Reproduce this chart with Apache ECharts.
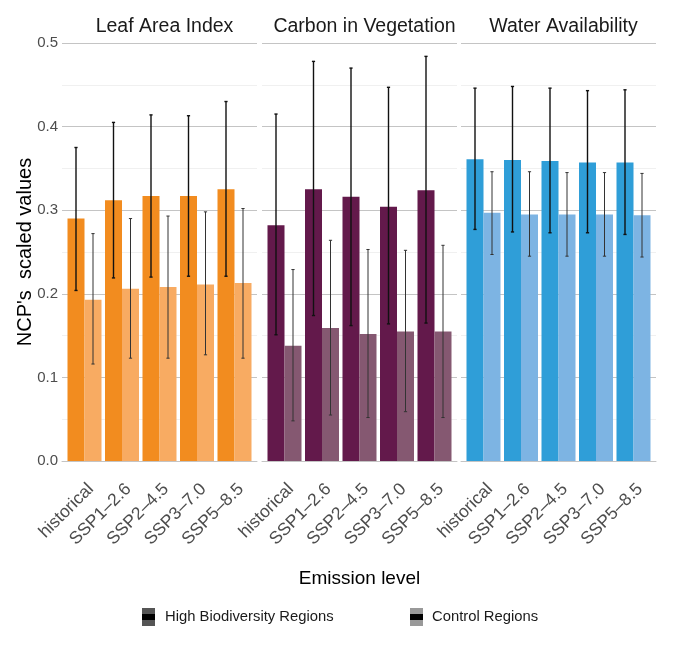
<!DOCTYPE html>
<html>
<head>
<meta charset="utf-8">
<script src="https://cdn.jsdelivr.net/npm/echarts@6/dist/echarts.min.js"></script>
<style>
  html, body { margin: 0; padding: 0; background: #fff; }
  #main { width: 680px; height: 647px; }
</style>
</head>
<body>
<div id="main"></div>
<script>
var scenarios = ['historical', 'SSP1\u20132.6', 'SSP2\u20134.5', 'SSP3\u20137.0', 'SSP5\u20138.5'];
var panels = ['Leaf Area Index', 'Carbon in Vegetation', 'Water Availability'];

// High Biodiversity Regions: mean and error range, one row per panel
var highMean = [
    [0.290, 0.312, 0.317, 0.317, 0.325],
    [0.282, 0.325, 0.316, 0.304, 0.324],
    [0.361, 0.360, 0.359, 0.357, 0.357]
];
var highLow = [
    [0.204, 0.219, 0.220, 0.221, 0.221],
    [0.151, 0.174, 0.162, 0.164, 0.165],
    [0.277, 0.274, 0.273, 0.273, 0.271]
];
var highHigh = [
    [0.375, 0.405, 0.414, 0.413, 0.430],
    [0.415, 0.478, 0.470, 0.447, 0.484],
    [0.446, 0.448, 0.446, 0.443, 0.444]
];

// Control Regions
var ctrlMean = [
    [0.193, 0.206, 0.208, 0.211, 0.213],
    [0.138, 0.159, 0.152, 0.155, 0.155],
    [0.297, 0.295, 0.295, 0.295, 0.294]
];
var ctrlLow = [
    [0.116, 0.123, 0.123, 0.127, 0.123],
    [0.048, 0.055, 0.052, 0.059, 0.052],
    [0.247, 0.245, 0.245, 0.245, 0.244]
];
var ctrlHigh = [
    [0.272, 0.290, 0.293, 0.298, 0.302],
    [0.229, 0.264, 0.253, 0.252, 0.258],
    [0.346, 0.346, 0.345, 0.345, 0.344]
];

var darkColors = ['#F28C1F', '#63194B', '#2F9ED8'];
var lightColors = ['#F8AB62', '#855871', '#7DB4E3'];

var gridLefts = [62, 262, 461];
var gridWidth = 195;
var barW = 17;

var dom = document.getElementById('main');
var myChart = echarts.init(dom);
window.addEventListener('resize', function () {
    myChart.resize();
});

function xPos(i) { return i + 0.6; }

function errorSeries(p, lo, hi, dx, color, lw, name) {
    return {
        name: name,
        type: 'custom',
        xAxisIndex: p,
        yAxisIndex: p,
        z: 5,
        data: lo.map(function (v, i) { return [xPos(i), v, hi[i]]; }),
        encode: { x: 0, y: [1, 2] },
        renderItem: function (params, api) {
            var a = api.coord([api.value(0), api.value(1)]);
            var b = api.coord([api.value(0), api.value(2)]);
            var x = a[0] + dx;
            var st = { stroke: color, lineWidth: lw };
            return {
                type: 'group',
                children: [
                    { type: 'line', shape: { x1: x, y1: a[1], x2: x, y2: b[1] }, style: st },
                    { type: 'line', shape: { x1: x - 1.6, y1: a[1], x2: x + 1.6, y2: a[1] }, style: st },
                    { type: 'line', shape: { x1: x - 1.6, y1: b[1], x2: x + 1.6, y2: b[1] }, style: st }
                ]
            };
        }
    };
}

var grids = [], xAxes = [], yAxes = [], series = [], titles = [];

panels.forEach(function (name, p) {
    grids.push({ left: gridLefts[p], width: gridWidth, top: 43, bottom: 186 });
    titles.push({
        text: name,
        left: gridLefts[p] + gridWidth / 2,
        top: 12,
        textAlign: 'center',
        textStyle: { fontFamily: 'Liberation Sans', fontSize: 19.5, fontWeight: 'normal', color: '#1a1a1a' }
    });
    xAxes.push({
        type: 'value',
        gridIndex: p,
        min: 0,
        max: 5.2,
        interval: 0.2,
        splitLine: { show: false },
        axisLine: { show: true, lineStyle: { color: '#c4c4c4', width: 1 } },
        axisTick: { show: false },
        axisLabel: {
            rotate: 45,
            margin: 19,
            align: 'right',
            verticalAlign: 'top',
            fontFamily: 'Liberation Sans',
            fontSize: 17.5,
            color: '#4d4d4d',
            showMinLabel: true,
            showMaxLabel: true,
            formatter: function (v) {
                var k = v - 0.6;
                var r = Math.round(k);
                if (Math.abs(k - r) < 1e-6 && r >= 0 && r < scenarios.length) return scenarios[r];
                return '';
            }
        },
        name: p === 1 ? 'Emission level' : '',
        nameLocation: 'middle',
        nameGap: 108,
        nameMoveOverlap: false,
        nameTextStyle: { fontFamily: 'Liberation Sans', fontSize: 19, color: '#000' }
    });
    yAxes.push({
        type: 'value',
        gridIndex: p,
        min: 0,
        max: 0.5,
        interval: 0.1,
        axisLine: { show: false },
        axisTick: { show: false },
        axisLabel: {
            show: p === 0,
            margin: 4,
            fontFamily: 'Liberation Sans',
            fontSize: 15,
            color: '#4d4d4d',
            formatter: function (v) { return v.toFixed(1); }
        },
        splitLine: { show: true, lineStyle: { color: '#c4c4c4', width: 1 } },
        minorTick: { show: false, splitNumber: 2 },
        minorSplitLine: { show: true, lineStyle: { color: '#f0f0f0', width: 1 } },
        name: p === 0 ? "NCP's  scaled values" : '',
        nameLocation: 'middle',
        nameRotate: 90,
        nameGap: 27,
        nameMoveOverlap: false,
        nameTextStyle: { fontFamily: 'Liberation Sans', fontSize: 20, color: '#000' }
    });

    series.push({
        name: 'High Biodiversity Regions',
        type: 'bar',
        xAxisIndex: p,
        yAxisIndex: p,
        barWidth: barW,
        barGap: '0%',
        itemStyle: { color: darkColors[p] },
        data: highMean[p].map(function (v, i) { return [xPos(i), v]; })
    });
    series.push({
        name: 'Control Regions',
        type: 'bar',
        xAxisIndex: p,
        yAxisIndex: p,
        barWidth: barW,
        barGap: '0%',
        itemStyle: { color: lightColors[p] },
        data: ctrlMean[p].map(function (v, i) { return [xPos(i), v]; })
    });
    series.push(errorSeries(p, highLow[p], highHigh[p], -barW / 2, '#111', 1.4, 'High Biodiversity Regions err'));
    series.push(errorSeries(p, ctrlLow[p], ctrlHigh[p], barW / 2, '#333', 1, 'Control Regions err'));
});

function legendKey(x, top, color) {
    return [
        { type: 'rect', shape: { x: x, y: top, width: 13, height: 18 }, style: { fill: color } },
        { type: 'rect', shape: { x: x, y: top + 6, width: 13, height: 6 }, style: { fill: '#000' } }
    ];
}

var legendGraphics = []
    .concat(legendKey(142, 608, '#555555'))
    .concat(legendKey(410, 608, '#999999'))
    .concat([
        { type: 'text', x: 165, y: 617, style: { text: 'High Biodiversity Regions', fill: '#1a1a1a', font: '14.8px "Liberation Sans"', textVerticalAlign: 'middle' } },
        { type: 'text', x: 432, y: 617, style: { text: 'Control Regions', fill: '#1a1a1a', font: '14.8px "Liberation Sans"', textVerticalAlign: 'middle' } }
    ]);

var option = {
    backgroundColor: '#fff',
    animation: false,
    title: titles,
    grid: grids,
    xAxis: xAxes,
    yAxis: yAxes,
    series: series,
    graphic: legendGraphics
};

if (option && typeof option === 'object') {
    myChart.setOption(option, true);
}
</script>
</body>
</html>
